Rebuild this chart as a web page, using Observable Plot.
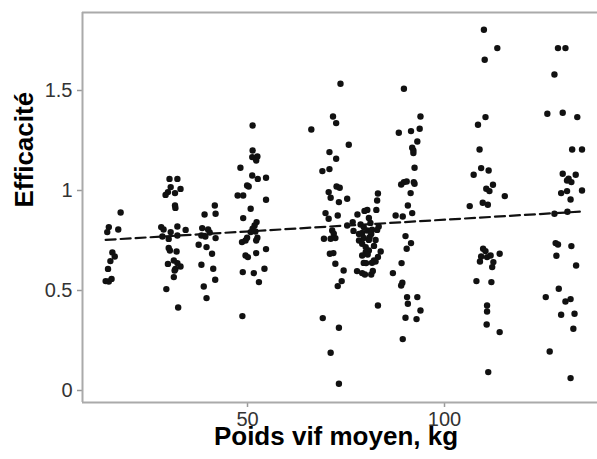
<!DOCTYPE html>
<html><head><meta charset="utf-8">
<script src="https://cdn.jsdelivr.net/npm/d3@7"></script>
<script src="https://cdn.jsdelivr.net/npm/@observablehq/plot@0.6"></script>
<style>
html,body{margin:0;padding:0;background:#fff;}
#chart svg{display:block;}
#chart svg g[aria-label*="axis"] line, #chart svg g[aria-label*="axis"] path{stroke:#999;stroke-width:1.5;}
</style></head><body><div id="chart"></div>
<script>
// Poids vif moyen (kg) — jittered groups
const weight = [
  17.8,14.8,17.2,14.4,15.7,16.3,15.2,14.6,14.0,14.8,15.5,
  30.2,32.2,30.5,29.8,29.2,31.6,33.0,31.6,31.7,28.1,32.2,34.3,28.4,30.5,32.2,30.0,28.7,30.0,30.3,32.0,29.8,32.2,33.0,31.7,31.3,31.5,31.3,29.4,32.4,
  41.7,39.1,41.9,38.5,40.0,38.3,39.3,40.4,37.6,39.6,41.9,41.0,38.3,41.3,41.8,38.9,39.6,
  51.3,51.3,51.2,52.5,52.2,48.2,51.2,52.6,54.7,49.9,50.3,47.5,48.9,54.7,50.8,48.9,52.3,51.8,51.3,52.0,50.8,52.5,52.2,48.6,49.5,49.9,54.7,49.5,50.1,52.2,54.3,48.8,51.6,52.9,48.7,
  73.6,71.7,72.5,66.2,75.7,70.8,72.5,70.8,69.0,72.6,73.4,70.6,71.1,73.2,75.3,69.8,70.6,72.9,71.5,71.9,69.4,71.1,72.3,70.9,71.8,72.3,74.4,73.9,72.9,69.1,73.2,71.1,73.2,
  83.1,82.9,82.7,80.4,79.7,77.9,76.7,80.8,81.2,78.7,79.5,75.3,76.9,78.3,79.1,80.4,81.6,83.3,82.9,81.4,81.0,78.3,79.5,80.8,82.5,79.1,80.0,82.1,80.8,83.8,80.0,80.5,79.1,83.1,82.1,82.5,79.5,80.1,81.6,77.8,79.1,79.8,81.4,81.8,83.1,
  89.7,93.9,88.4,91.5,93.7,93.1,91.8,92.1,92.1,92.4,89.0,89.7,90.4,92.2,92.4,91.4,90.7,91.8,89.4,87.6,90.1,91.5,90.4,89.1,86.9,89.3,89.0,90.5,93.1,90.7,93.9,90.1,92.9,89.4,
  110.0,113.4,110.2,110.4,108.5,108.9,109.3,111.2,107.4,112.3,110.6,111.4,115.3,106.4,109.7,111.0,109.8,110.4,109.3,110.8,111.7,114.0,109.0,112.4,112.1,108.1,111.9,110.8,110.8,110.7,114.0,111.1,
  128.8,130.7,127.9,126.1,130.0,133.7,132.4,134.9,130.0,133.3,131.5,132.2,131.1,129.6,131.1,134.9,132.0,127.9,131.2,128.2,128.8,132.2,128.4,133.4,129.0,125.7,130.7,132.0,129.6,133.0,132.7,126.7,132.0
];
// Efficacité
const efficacite = [
  0.89,0.817,0.805,0.792,0.69,0.67,0.647,0.608,0.547,0.545,0.558,
  1.058,1.058,1.017,0.992,0.978,0.987,1.008,0.925,0.913,0.817,0.82,0.803,0.77,0.792,0.775,0.758,0.805,0.713,0.70,0.695,0.633,0.637,0.62,0.608,0.65,0.60,0.567,0.507,0.415,
  0.925,0.88,0.884,0.812,0.805,0.775,0.77,0.79,0.729,0.717,0.762,0.684,0.629,0.609,0.554,0.52,0.462,
  1.325,1.20,1.167,1.17,1.15,1.114,1.075,1.058,1.064,1.025,1.02,0.975,0.975,0.954,0.909,0.862,0.842,0.825,0.809,0.795,0.792,0.764,0.75,0.742,0.75,0.764,0.707,0.675,0.667,0.687,0.609,0.592,0.587,0.542,0.372,
  1.534,1.37,1.337,1.305,1.229,1.192,1.159,1.107,1.097,1.02,1.014,0.992,0.964,0.942,0.959,0.887,0.859,0.875,0.80,0.784,0.759,0.759,0.762,0.684,0.687,0.634,0.60,0.547,0.522,0.362,0.314,0.189,0.034,
  0.985,0.95,0.903,0.903,0.898,0.88,0.842,0.863,0.838,0.83,0.817,0.825,0.798,0.783,0.788,0.80,0.804,0.82,0.803,0.783,0.767,0.75,0.763,0.753,0.753,0.734,0.717,0.723,0.70,0.695,0.692,0.68,0.675,0.668,0.65,0.645,0.638,0.637,0.639,0.597,0.587,0.58,0.58,0.598,0.425,
  1.509,1.37,1.289,1.297,1.309,1.245,1.214,1.20,1.187,1.114,1.03,1.042,1.045,1.042,1.034,0.987,0.925,0.887,0.87,0.875,0.772,0.737,0.709,0.637,0.587,0.539,0.525,0.467,0.467,0.434,0.40,0.364,0.357,0.257,
  1.804,1.712,1.654,1.367,1.329,1.205,1.112,1.10,1.079,1.029,1.009,0.997,0.972,0.922,0.939,0.929,0.709,0.697,0.67,0.667,0.675,0.684,0.645,0.642,0.617,0.547,0.542,0.425,0.395,0.33,0.292,0.092,
  1.712,1.712,1.58,1.384,1.389,1.367,1.205,1.205,1.084,1.079,1.059,1.042,1.05,0.987,0.997,1.00,0.955,0.884,0.894,0.737,0.73,0.722,0.674,0.625,0.509,0.467,0.445,0.457,0.379,0.384,0.309,0.195,0.062
];
// Linear trend endpoints
const trendX = [14, 135];
const trendY = [0.753, 0.895];
const xTicks = [50, 100];
const yTicks = [0, 0.5, 1, 1.5];
const xDomain = [8.12, 138.83];
const yDomain = [-0.06, 1.89];

const points = weight.map((w, i) => ({w, e: efficacite[i]}));
const trend = trendX.map((x, i) => ({x, y: trendY[i]}));

const chart = Plot.plot({
  width: 597, height: 459,
  marginLeft: 82, marginRight: 0, marginTop: 12, marginBottom: 57,
  style: {fontSize: "20px", fontFamily: "'Liberation Sans', Arial, sans-serif", color: "#333", background: "#fff"},
  x: {domain: xDomain, ticks: xTicks, tickSize: 5, tickPadding: 4, label: null},
  y: {domain: yDomain, ticks: yTicks, tickSize: 5, tickPadding: 5, tickFormat: d => String(d), label: null},
  marks: [
    Plot.ruleY([yDomain[0]], {stroke: "#aaa", strokeWidth: 2}),
    Plot.ruleY([yDomain[1]], {stroke: "#aaa", strokeWidth: 2}),
    Plot.ruleX([xDomain[0]], {stroke: "#aaa", strokeWidth: 2}),
    Plot.dot(points, {x: "w", y: "e", r: 3.2, fill: "#111", stroke: "none"}),
    Plot.line(trend, {x: "x", y: "y", stroke: "#111", strokeWidth: 2.2, strokeDasharray: "10,5"}),
    Plot.text(["Poids vif moyen, kg"], {frameAnchor: "bottom", dy: 42, dx: -4, fontSize: 26, fontWeight: "bold", fill: "#000"}),
    Plot.text(["Efficacité"], {frameAnchor: "left", dx: -58, rotate: -90, fontSize: 26, fontWeight: "bold", fill: "#000"})
  ]
});
document.getElementById("chart").appendChild(chart);
</script></body></html>
